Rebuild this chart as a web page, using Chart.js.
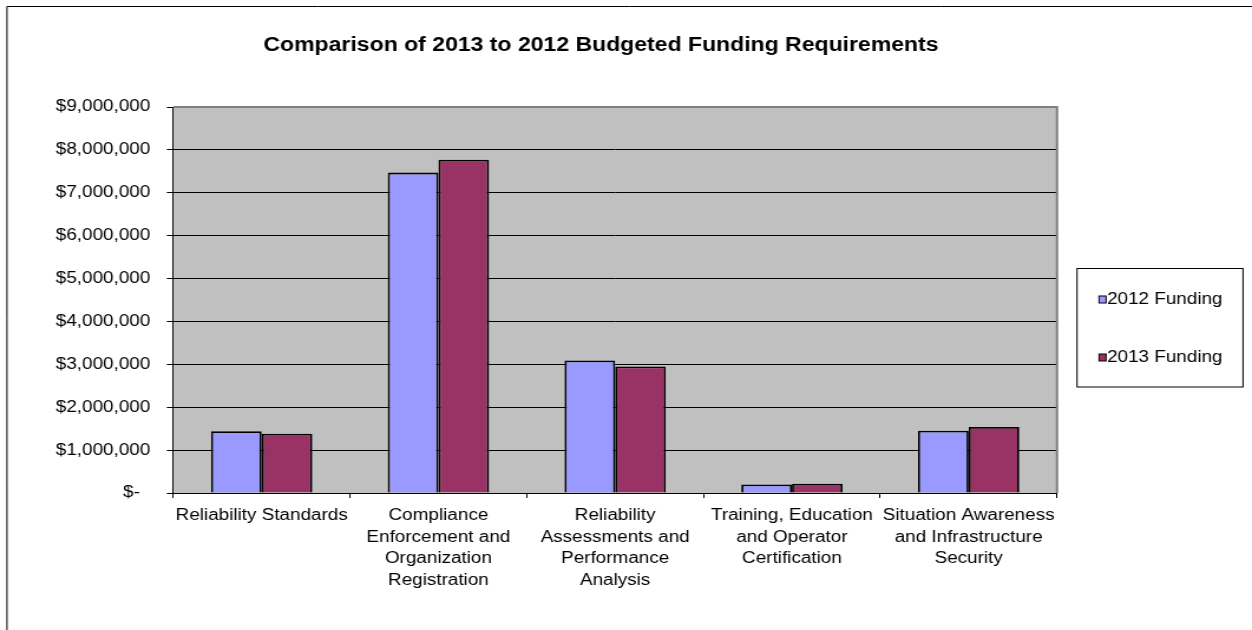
<!DOCTYPE html>
<html>
<head>
<meta charset="utf-8">
<script src="https://cdn.jsdelivr.net/npm/chart.js@4/dist/chart.umd.min.js"></script>
<style>
  html, body { margin: 0; padding: 0; background: #fff; overflow: hidden; }
  #chart { display: block; }
</style>
</head>
<body>
<!-- the source picture is stretched ~1.18x horizontally, so draw narrow and stretch -->
<canvas id="chart" width="1061" height="630" style="width:1252px;height:630px"></canvas>
<script>
let chartTitle = "Comparison of 2013 to 2012 Budgeted Funding Requirements";
let categories = [
    ["Reliability Standards"],
    ["Compliance", "Enforcement and", "Organization", "Registration"],
    ["Reliability", "Assessments and", "Performance", "Analysis"],
    ["Training, Education", "and Operator", "Certification"],
    ["Situation Awareness", "and Infrastructure", "Security"]
];
let seriesNames = ["2012 Funding", "2013 Funding"];
let funding2012 = [1440000, 7470000, 3090000, 200000, 1450000];
let funding2013 = [1380000, 7770000, 2950000, 215000, 1540000];
let yTicks = [0, 1000000, 2000000, 3000000, 4000000, 5000000, 6000000, 7000000, 8000000, 9000000];

const FONT = "'Liberation Sans', Arial, sans-serif";
const SX = 1.18; // horizontal stretch of the reference

/**
 * background of the plot, the page frame, the title and the boxed legend
 */
const excelLook = {
    id: "excelLook",
    beforeDraw(chart) {
        let ctx = chart.ctx;
        let a = chart.chartArea;
        ctx.save();
        ctx.fillStyle = "#fff";
        ctx.fillRect(0, 0, chart.width, chart.height);
        // page frame, only top and left show
        ctx.strokeStyle = "#000";
        ctx.lineWidth = 1;
        ctx.beginPath();
        ctx.moveTo(chart.width, 6.5);
        ctx.lineTo(7 / SX, 6.5);
        ctx.lineTo(7 / SX, chart.height);
        ctx.stroke();
        ctx.fillStyle = "#C0C0C0";
        ctx.fillRect(a.left, a.top, a.right - a.left, a.bottom - a.top);
        ctx.restore();
    },
    afterDraw(chart) {
        let ctx = chart.ctx;
        let a = chart.chartArea;
        ctx.save();
        // grey plot border on top and right
        ctx.strokeStyle = "#808080";
        ctx.lineWidth = 2;
        ctx.beginPath();
        ctx.moveTo(a.left, a.top);
        ctx.lineTo(a.right, a.top);
        ctx.lineTo(a.right, a.bottom);
        ctx.stroke();

        ctx.fillStyle = "#000";
        ctx.font = "bold 19.5px " + FONT;
        ctx.textAlign = "center";
        ctx.textBaseline = "alphabetic";
        ctx.fillText(chartTitle, 601 / SX, 51);

        // legend box
        ctx.strokeStyle = "#000";
        ctx.lineWidth = 1;
        ctx.strokeRect(1077 / SX, 268.5, (1243 - 1077) / SX, 118.5);
        ctx.font = "16px " + FONT;
        ctx.textAlign = "left";
        ctx.textBaseline = "middle";
        let rowsY = [299.5, 357.5];
        chart.data.datasets.forEach(function (ds, i) {
            let y = rowsY[i];
            ctx.fillStyle = ds.backgroundColor;
            ctx.fillRect(1099 / SX, y - 3.5, 6, 7);
            ctx.strokeRect(1099 / SX, y - 3.5, 6, 7);
            ctx.fillStyle = "#000";
            ctx.fillText(ds.label, 1107 / SX, y);
        });
        ctx.restore();
    }
};

Chart.defaults.font.family = FONT;
Chart.defaults.color = "#000";

let canvas = document.getElementById("chart");
new Chart(canvas, {
    type: "bar",
    data: {
        labels: categories,
        datasets: [
            {
                label: seriesNames[0],
                data: funding2012,
                backgroundColor: "#9999FF",
                borderColor: "#000",
                borderWidth: 1.8
            },
            {
                label: seriesNames[1],
                data: funding2013,
                backgroundColor: "#993366",
                borderColor: "#000",
                borderWidth: 1.8
            }
        ]
    },
    options: {
        responsive: false,
        animation: false,
        devicePixelRatio: 1,
        layout: { padding: { top: 107, left: 0, right: 1061 - 1057 / SX, bottom: 0 } },
        plugins: {
            legend: { display: false },
            title: { display: false },
            tooltip: { enabled: false }
        },
        datasets: {
            bar: { categoryPercentage: 0.573, barPercentage: 1 }
        },
        scales: {
            x: {
                grid: {
                    offset: true,
                    drawOnChartArea: false,
                    color: "#000",
                    tickLength: 5
                },
                border: { display: true, color: "#000", width: 1 },
                ticks: {
                    font: { size: 16, lineHeight: 1.35 },
                    padding: 7,
                    maxRotation: 0,
                    autoSkip: false
                },
                afterFit: function (scale) { scale.height = 630 - 493; }
            },
            y: {
                min: yTicks[0],
                max: yTicks[yTicks.length - 1],
                afterBuildTicks: function (scale) {
                    scale.ticks = yTicks.map(function (v) { return { value: v }; });
                },
                grid: {
                    color: "#000",
                    tickColor: "#000",
                    tickLength: 5.5,
                    lineWidth: 1
                },
                border: { display: true, color: "#000", width: 1 },
                ticks: {
                    font: { size: 16 },
                    padding: 14,
                    callback: function (v) {
                        return v === 0 ? "$-  " : "$" + v.toLocaleString("en-US");
                    }
                },
                afterFit: function (scale) { scale.width = 173.3 / SX; }
            }
        }
    },
    plugins: [excelLook]
});
canvas.style.width = "1252px";
canvas.style.height = "630px";
</script>
</body>
</html>
